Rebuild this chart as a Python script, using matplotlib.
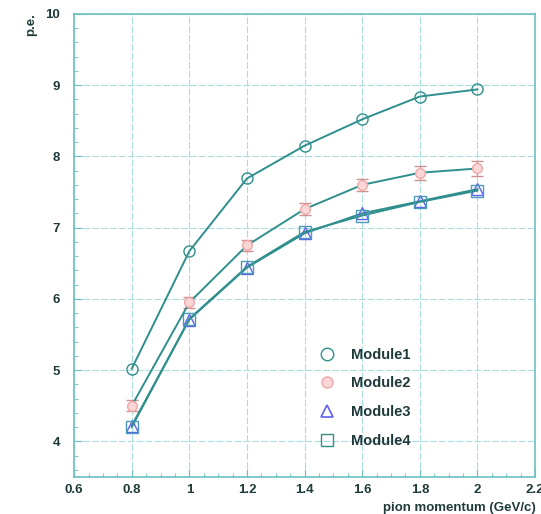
import matplotlib
matplotlib.use("Agg")
import matplotlib.pyplot as plt
from matplotlib.lines import Line2D
from matplotlib.ticker import MultipleLocator

plt.rcParams['font.family'] = ['Liberation Sans', 'DejaVu Sans']

momentum = [0.8, 1.0, 1.2, 1.4, 1.6, 1.8, 2.0]
module1 = [5.02, 6.67, 7.69, 8.15, 8.52, 8.84, 8.94]
module2 = [4.50, 5.95, 6.75, 7.26, 7.60, 7.77, 7.83]
module2_err = [0.08, 0.08, 0.08, 0.08, 0.08, 0.1, 0.1]
module3 = [4.22, 5.71, 6.44, 6.92, 7.20, 7.37, 7.54]
module4 = [4.20, 5.72, 6.45, 6.94, 7.17, 7.36, 7.52]

line_col = '#2f8f8c'
text_col = '#1f3a3a'
m2_face, m2_edge = '#fbd6d6', '#f0a8a8'
m3_edge, m4_edge = '#6060f0', '#4a9ab8'

fig = plt.figure(figsize=(5.41, 5.14), dpi=100)
ax = fig.add_axes([0.137, 0.072, 0.852, 0.901])

ax.plot(momentum, module1, color=line_col, lw=1.4, marker='o', ms=8,
        mfc='none', mec=line_col, mew=1.0)
ax.errorbar(momentum, module2, yerr=module2_err, color=line_col, lw=1.4,
            marker='o', ms=7, mfc=m2_face, mec=m2_edge, mew=1.0,
            ecolor='#d09090', elinewidth=0.8, capsize=4)
ax.plot(momentum, module3, color=line_col, lw=1.4, marker='^', ms=8,
        mfc='none', mec=m3_edge, mew=1.0)
ax.plot(momentum, module4, color=line_col, lw=1.4, marker='s', ms=8,
        mfc='none', mec=m4_edge, mew=1.0)

ax.set_xlim(0.6, 2.2)
ax.set_ylim(3.5, 10)
ax.xaxis.set_minor_locator(MultipleLocator(0.05))
ax.yaxis.set_minor_locator(MultipleLocator(0.2))
ax.set_xticks([0.6, 0.8, 1.0, 1.2, 1.4, 1.6, 1.8, 2.0, 2.2])
ax.set_xticklabels(['0.6', '0.8', '1', '1.2', '1.4', '1.6', '1.8', '2', '2.2'])
ax.set_yticks([4, 5, 6, 7, 8, 9, 10])
ax.set_yticklabels(['4', '5', '6', '7', '8', '9', '10'])

ax.grid(True, which='major', color='#a8dede', lw=0.8, ls=(0, (6, 2)))
ax.set_axisbelow(True)
for s in ax.spines.values():
    s.set_color('#6cc0c0')
    s.set_linewidth(1.2)
ax.tick_params(which='both', direction='in', colors='#6cc0c0',
               labelcolor=text_col, labelsize=9.5)
ax.tick_params(which='major', length=6)
ax.tick_params(which='minor', length=3)
ax.tick_params(axis='x', pad=5)
ax.tick_params(axis='y', pad=10)
for lbl in ax.get_xticklabels() + ax.get_yticklabels():
    lbl.set_fontweight('bold')

fig.text(0.057, 0.975, 'p.e.', rotation=90, ha='center', va='top',
         fontsize=9.5, fontweight='bold', color=text_col)
fig.text(0.99, 0.0, 'pion momentum (GeV/c)', ha='right', va='bottom',
         fontsize=9.5, fontweight='bold', color=text_col)

handles = [
    Line2D([], [], ls='none', marker='o', ms=9, mfc='none', mec=line_col, mew=1.0),
    Line2D([], [], ls='none', marker='o', ms=8, mfc=m2_face, mec=m2_edge, mew=1.0),
    Line2D([], [], ls='none', marker='^', ms=9, mfc='none', mec=m3_edge, mew=1.2),
    Line2D([], [], ls='none', marker='s', ms=9, mfc='none', mec=line_col, mew=1.0),
]
names = ['Module1', 'Module2', 'Module3', 'Module4']
leg = ax.legend(handles, names, loc='lower left', bbox_to_anchor=(0.505, 0.035),
                frameon=False, prop={'weight': 'bold', 'size': 10.5},
                handlelength=1.0, handletextpad=1.1, labelspacing=1.0)
for t in leg.get_texts():
    t.set_color(text_col)

fig.savefig('out.png', dpi=100)
